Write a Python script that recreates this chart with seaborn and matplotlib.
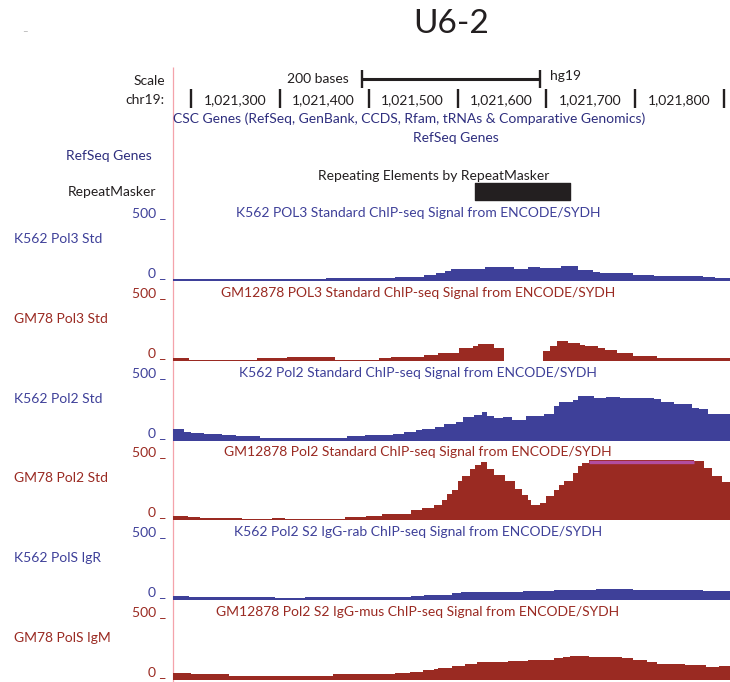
import numpy as np
import pandas as pd
import matplotlib
matplotlib.use("Agg")
import matplotlib.pyplot as plt
from matplotlib.transforms import ScaledTranslation
import seaborn as sns

sns.set_theme(style="white")
plt.rcParams['font.family'] = ['Lato', 'DejaVu Sans']

# ---------------- data ----------------
view_start = 1021179.5
view_end = 1021805.6
ruler_ticks = [1021200, 1021300, 1021400, 1021500, 1021600, 1021700, 1021800]
ruler_labels = ["", "1,021,300", "1,021,400", "1,021,500", "1,021,600", "1,021,700", "1,021,800"]
scale_bar_bases = 200
repeat_start, repeat_end = 1021520, 1021627

k562_pol3_starts = [1021180, 1021352, 1021429, 1021462, 1021476, 1021486, 1021492, 1021531, 1021563,
                    1021579, 1021593, 1021616, 1021636, 1021652, 1021660, 1021697, 1021721, 1021731,
                    1021776, 1021790]
k562_pol3_values = [17, 27, 33, 47, 63, 85, 99, 115, 102, 115, 107, 121, 91, 77, 66, 50, 44, 41, 33, 28]

gm78_pol3_starts = [1021180, 1021198, 1021274, 1021308, 1021362, 1021411, 1021425, 1021462, 1021478,
                    1021502, 1021517, 1021523, 1021541, 1021552, 1021596, 1021604, 1021612, 1021624,
                    1021638, 1021644, 1021658, 1021666, 1021679, 1021697, 1021711, 1021725]
gm78_pol3_values = [23, 8, 25, 34, 8, 25, 34, 48, 62, 107, 121, 141, 107, 0, 79, 121, 161, 147,
                    135, 127, 110, 93, 62, 42, 37, 25]

k562_pol2_starts = [1021180, 1021192, 1021200, 1021214, 1021235, 1021251, 1021277, 1021300, 1021375,
                    1021396, 1021427, 1021440, 1021453, 1021460, 1021474, 1021485, 1021498, 1021506,
                    1021519, 1021527, 1021533, 1021541, 1021551, 1021561, 1021577, 1021587, 1021597,
                    1021608, 1021614, 1021630, 1021636, 1021642, 1021654, 1021667, 1021683, 1021701,
                    1021721, 1021729, 1021744, 1021764, 1021772, 1021782, 1021790]
k562_pol2_values = [95, 75, 67, 56, 47, 39, 22, 25, 39, 47, 56, 72, 89, 100, 117, 139, 158, 195,
                    211, 236, 206, 192, 198, 170, 203, 208, 222, 290, 322, 336, 372, 370, 356,
                    367, 359, 353, 347, 325, 303, 275, 266, 222, 222]

gm78_pol2_starts = [1021180, 1021196, 1021210, 1021257, 1021291, 1021306, 1021373, 1021397, 1021415,
                    1021448, 1021460, 1021473, 1021482, 1021488, 1021494, 1021500, 1021505, 1021514,
                    1021520, 1021526, 1021533, 1021541, 1021553, 1021565, 1021573, 1021579, 1021583,
                    1021593, 1021599, 1021608, 1021614, 1021620, 1021630, 1021636, 1021640, 1021648,
                    1021766, 1021778, 1021786, 1021798]
gm78_pol2_values = [36, 28, 19, 8, 19, 8, 28, 39, 53, 83, 106, 131, 172, 222, 256, 325, 372, 428,
                    464, 489, 428, 381, 325, 264, 214, 172, 125, 145, 200, 256, 297, 325, 395, 456,
                    478, 560, 492, 439, 372, 317]

k562_pols_starts = [1021180, 1021198, 1021283, 1021294, 1021328, 1021336, 1021448, 1021462, 1021494,
                    1021504, 1021574, 1021608, 1021638, 1021656, 1021697, 1021776]
k562_pols_values = [33, 25, 27, 16, 25, 25, 36, 44, 58, 66, 74, 82, 88, 91, 82, 74]

gm78_pols_starts = [1021180, 1021200, 1021243, 1021255, 1021360, 1021430, 1021446, 1021461, 1021473,
                    1021478, 1021494, 1021508, 1021522, 1021557, 1021579, 1021596, 1021608, 1021619,
                    1021627, 1021648, 1021660, 1021685, 1021697, 1021713, 1021725, 1021756, 1021780,
                    1021794]
gm78_pols_values = [56, 47, 33, 31, 47, 56, 67, 81, 89, 100, 114, 136, 147, 158, 167, 164, 181, 189,
                    197, 189, 195, 183, 167, 147, 136, 128, 108, 114]

track_short = ["K562 Pol3 Std", "GM78 Pol3 Std", "K562 Pol2 Std", "GM78 Pol2 Std",
               "K562 PolS IgR", "GM78 PolS IgM"]
track_long = ["K562 POL3 Standard ChIP-seq Signal from ENCODE/SYDH",
              "GM12878 POL3 Standard ChIP-seq Signal from ENCODE/SYDH",
              "K562 Pol2 Standard ChIP-seq Signal from ENCODE/SYDH",
              "GM12878 Pol2 Standard ChIP-seq Signal from ENCODE/SYDH",
              "K562 Pol2 S2 IgG-rab ChIP-seq Signal from ENCODE/SYDH",
              "GM12878 Pol2 S2 IgG-mus ChIP-seq Signal from ENCODE/SYDH"]
track_starts = [k562_pol3_starts, gm78_pol3_starts, k562_pol2_starts, gm78_pol2_starts,
                k562_pols_starts, gm78_pols_starts]
track_values = [k562_pol3_values, gm78_pol3_values, k562_pol2_values, gm78_pol2_values,
                k562_pols_values, gm78_pols_values]
view_max = 500

# ---------------- style ----------------
BLUE = "#3e4099"
RED = "#9a2a22"
NAVY = "#2e2e7e"
BLACK = "#231f20"
MAGENTA = "#b24d9f"
track_colors = [BLUE, RED, BLUE, RED, BLUE, RED]
FS = 10

W, H = 730, 682
fig = plt.figure(figsize=(W / 100, H / 100), dpi=100)

canvas = fig.add_axes([0, 0, 1, 1])
canvas.set_xlim(0, W)
canvas.set_ylim(H, 0)
canvas.axis("off")

canvas.text(451, 24, "U6-2", ha="center", va="center", fontsize=24, color=BLACK)
canvas.text(25, 32, "–", ha="center", va="center", fontsize=7, color="#b0b0b0")
canvas.vlines(172.5, 67, H, color="#f4a3ab", lw=0.9)

canvas.text(165, 81, "Scale", ha="right", va="center", fontsize=FS, color=BLACK)
canvas.text(165, 100, "chr19:", ha="right", va="center", fontsize=FS, color=BLACK)
canvas.text(173, 119, "CSC Genes (RefSeq, GenBank, CCDS, Rfam, tRNAs & Comparative Genomics)",
            ha="left", va="center", fontsize=FS, color=NAVY)
canvas.text(456, 138, "RefSeq Genes", ha="center", va="center", fontsize=FS, color=NAVY)
canvas.text(152, 156, "RefSeq Genes", ha="right", va="center", fontsize=FS, color=NAVY)
canvas.text(434, 176, "Repeating Elements by RepeatMasker", ha="center", va="center",
            fontsize=FS, color=BLACK)
canvas.text(156, 192, "RepeatMasker", ha="right", va="center", fontsize=FS, color=BLACK)

# header axes in genomic x / pixel y
hx0, hx1 = 173, 729
hdr = fig.add_axes([hx0 / W, 1 - 210 / H, (hx1 - hx0) / W, 150 / H])
hdr.set_xlim(view_start, view_end)
hdr.set_ylim(210, 60)
hdr.axis("off")
hdr.patch.set_alpha(0)

hdr.vlines(ruler_ticks, 89, 108, color=BLACK, lw=1.7)
off = ScaledTranslation(-0.14, 0, fig.dpi_scale_trans)
for t, lab in zip(ruler_ticks, ruler_labels):
    hdr.text(t, 100, lab, ha="right", va="center", fontsize=FS, color=BLACK,
             transform=hdr.transData + off)

center = (view_start + view_end) / 2
sb0, sb1 = center - scale_bar_bases / 2, center + scale_bar_bases / 2
hdr.hlines(79, sb0, sb1, color=BLACK, lw=2.2)
hdr.vlines([sb0, sb1], 70, 88, color=BLACK, lw=1.7)
hdr.text(sb0, 79, f"{scale_bar_bases} bases", ha="right", va="center", fontsize=FS, color=BLACK,
         transform=hdr.transData + ScaledTranslation(-0.13, 0, fig.dpi_scale_trans))
hdr.text(sb1, 76, "hg19", ha="left", va="center", fontsize=FS, color=BLACK,
         transform=hdr.transData + ScaledTranslation(0.1, 0, fig.dpi_scale_trans))
hdr.broken_barh([(repeat_start, repeat_end - repeat_start)], (183, 17), color=BLACK)

# signal tracks
for k in range(6):
    base = 281 + 79.8 * k
    col = track_colors[k]
    df = pd.DataFrame({"start": np.array(track_starts[k], dtype=float),
                       "value": np.array(track_values[k], dtype=float)})
    edges = [float(s) for s in track_starts[k]] + [view_end + 1]
    ax = fig.add_axes([hx0 / W, 1 - base / H, (hx1 - hx0) / W, 60 / H])
    sns.histplot(data=df, x="start", weights="value", bins=edges, element="step", fill=True,
                 color=col, alpha=1, linewidth=0, ax=ax)
    over = df["value"].to_numpy() > view_max
    e_arr = np.array(edges)
    for s, e in zip(e_arr[:-1][over], e_arr[1:][over]):
        ax.hlines(view_max * 0.973, s, e, color=MAGENTA, lw=2.4)
    ax.set_xlim(view_start, view_end)
    ax.set_ylim(0, view_max)
    ax.axis("off")
    ax.patch.set_alpha(0)

    canvas.text(166, base - 68, f"{view_max} _", ha="right", va="center", fontsize=FS, color=col)
    canvas.text(166, base - 8, "0 _", ha="right", va="center", fontsize=FS, color=col)
    canvas.text(14, base - 42, track_short[k], ha="left", va="center", fontsize=FS, color=col)
    canvas.text(418, base - 68, track_long[k], ha="center", va="center", fontsize=FS, color=col)

fig.savefig("out.png", dpi=100)
